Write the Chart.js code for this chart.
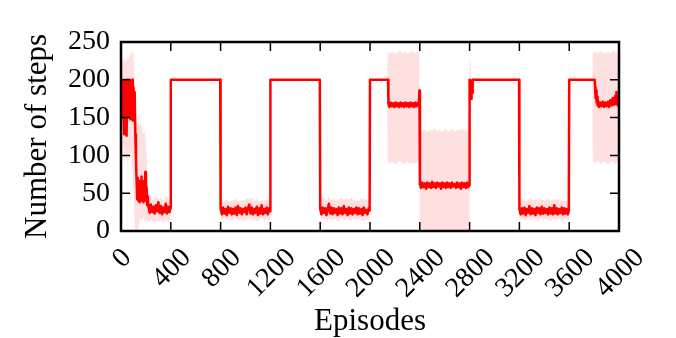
<!DOCTYPE html>
<html>
<head>
<meta charset="utf-8">
<script src="https://cdn.jsdelivr.net/npm/chart.js@4.4.1/dist/chart.umd.min.js"></script>
<style>
  html, body { margin: 0; padding: 0; background: #fff; }
  canvas { display: block; }
</style>
</head>
<body>
<canvas id="chart" width="676" height="338"></canvas>
<script>
// values
const xTicks = [0, 400, 800, 1200, 1600, 2000, 2400, 2800, 3200, 3600, 4000];
const yTicks = [0, 50, 100, 150, 200, 250];

const meanEpisodes = [
  0, 5, 10, 15, 20, 25, 30, 35, 40, 45, 50, 55, 60, 65, 70, 75, 80, 85, 90, 95, 100, 105, 110,
  115, 120, 125, 130, 135, 140, 145, 150, 155, 160, 165, 170, 175, 180, 185, 190, 195, 200, 205, 210, 215,
  220, 230, 240, 250, 260, 270, 280, 290, 300, 310, 320, 330, 340, 350, 360, 370, 380, 390, 396,
  400, 797,
  800, 810, 820, 830, 840, 850, 860, 870, 880, 890, 900, 910, 920, 930, 940, 950, 960, 970, 980, 990,
  1000, 1010, 1020, 1030, 1040, 1050, 1060, 1070, 1080, 1090, 1100, 1110, 1120, 1130, 1140, 1150, 1160, 1170, 1180, 1190, 1197,
  1200, 1597,
  1600, 1610, 1620, 1630, 1640, 1650, 1660, 1670, 1680, 1690, 1700, 1710, 1720, 1730, 1740, 1750, 1760, 1770, 1780, 1790,
  1800, 1810, 1820, 1830, 1840, 1850, 1860, 1870, 1880, 1890, 1900, 1910, 1920, 1930, 1940, 1950, 1960, 1970, 1980, 1990, 1997,
  2000, 2145,
  2148, 2155, 2165, 2175, 2185, 2195, 2205, 2215, 2225, 2235, 2245, 2255, 2265, 2275, 2285, 2295, 2305, 2315, 2325, 2335,
  2345, 2355, 2365, 2375, 2385, 2393, 2397,
  2401, 2410, 2420, 2430, 2440, 2450, 2460, 2470, 2480, 2490, 2500, 2510, 2520, 2530, 2540, 2550, 2560, 2570, 2580, 2590,
  2600, 2610, 2620, 2630, 2640, 2650, 2660, 2670, 2680, 2690, 2700, 2710, 2720, 2730, 2740, 2750, 2760, 2770, 2780, 2790, 2797,
  2800, 2804, 2808, 2812, 2816, 2820, 2825, 3197,
  3200, 3210, 3220, 3230, 3240, 3250, 3260, 3270, 3280, 3290, 3300, 3310, 3320, 3330, 3340, 3350, 3360, 3370, 3380, 3390,
  3400, 3410, 3420, 3430, 3440, 3450, 3460, 3470, 3480, 3490, 3500, 3510, 3520, 3530, 3540, 3550, 3560, 3570, 3580, 3590, 3597,
  3600, 3805,
  3808, 3812, 3816, 3820, 3824, 3828, 3832, 3840, 3850, 3860, 3870, 3880, 3890, 3900, 3910, 3920, 3930, 3940, 3950, 3960,
  3970, 3975, 3980, 3985, 3990, 4000
];
const meanSteps = [
  176, 200, 150, 198, 158, 128, 200, 154, 197, 126, 200, 150, 198, 160, 200, 148, 196, 162, 200, 146, 190, 152, 184,
  128, 96, 68, 42, 70, 40, 66, 38, 64, 42, 72, 40, 62, 38, 66, 44, 78, 40, 58, 34, 46,
  33, 24, 35, 25, 32, 23, 34, 26, 38, 24, 33, 22, 31, 25, 36, 23, 32, 25, 30,
  200, 200,
  30, 22, 31, 23, 29, 21, 32, 24, 30, 22, 29, 23, 31, 21, 33, 24, 30, 22, 29, 25,
  31, 22, 30, 35, 23, 31, 22, 29, 24, 32, 21, 30, 23, 34, 22, 29, 24, 31, 22, 30, 26,
  200, 200,
  29, 22, 31, 24, 30, 21, 29, 36, 23, 31, 22, 30, 24, 29, 21, 31, 23, 30, 22, 33,
  24, 29, 21, 31, 23, 30, 22, 29, 24, 31, 22, 30, 23, 29, 21, 31, 24, 28, 22, 30, 27,
  200, 200,
  168, 164, 170, 165, 169, 164, 170, 165, 169, 164, 170, 165, 169, 164, 170, 165, 169, 164, 170, 165,
  169, 164, 170, 165, 169, 171, 186,
  62, 57, 64, 58, 63, 56, 64, 58, 63, 57, 65, 58, 63, 57, 64, 59, 63, 56, 64, 58,
  63, 57, 64, 58, 63, 57, 64, 59, 62, 57, 64, 58, 63, 56, 64, 58, 63, 57, 64, 58, 61,
  200, 176, 197, 175, 199, 183, 200, 200,
  29, 22, 30, 23, 31, 21, 29, 24, 33, 22, 30, 23, 29, 21, 31, 24, 30, 22, 32, 23,
  30, 24, 29, 22, 31, 23, 30, 22, 34, 23, 30, 22, 29, 24, 31, 22, 30, 23, 29, 22, 27,
  200, 200,
  190, 176, 186, 170, 178, 166, 172, 164, 170, 165, 171, 164, 170, 165, 171, 164, 173, 166, 176, 167,
  179, 168, 184, 170, 166, 172
];

const bandEpisodes = [
  0, 10, 20, 30, 40, 50, 60, 70, 80, 90, 100, 108, 113, 120, 130, 140, 150, 160, 170, 180, 190, 200, 210,
  220, 240, 260, 280, 300, 320, 340, 360, 380, 396,
  400, 796, 800, 804,
  810, 830, 850, 870, 890, 910, 930, 950, 970, 990, 1010, 1030, 1050, 1070, 1090, 1110, 1130, 1150, 1170, 1190, 1197,
  1200, 1596, 1600, 1604,
  1610, 1630, 1650, 1670, 1690, 1710, 1730, 1750, 1770, 1790, 1810, 1830, 1850, 1870, 1890, 1910, 1930, 1950, 1970, 1990, 1997,
  2000, 2138, 2142,
  2160, 2180, 2200, 2220, 2240, 2260, 2280, 2300, 2320, 2340, 2360, 2380, 2396,
  2400, 2420, 2440, 2460, 2480, 2500, 2520, 2540, 2560, 2580, 2600, 2620, 2640, 2660, 2680, 2700, 2720, 2740, 2760, 2780, 2796,
  2800, 2806, 2812, 2818,
  3196, 3200, 3204,
  3210, 3230, 3250, 3270, 3290, 3310, 3330, 3350, 3370, 3390, 3410, 3430, 3450, 3470, 3490, 3510, 3530, 3550, 3570, 3590,
  3594, 3598, 3603,
  3786, 3790,
  3810, 3830, 3850, 3870, 3890, 3910, 3930, 3950, 3970, 3990, 4000
];
const bandLow = [
  104, 96, 112, 88, 102, 86, 108, 94, 106, 84, 55, 20, 0, 0, 0, 6, 14, 18, 13, 20, 16, 12, 15,
  12, 15, 11, 14, 12, 15, 11, 14, 12, 15,
  200, 200, 80, 8,
  15, 17, 14, 16, 13, 17, 15, 14, 16, 13, 15, 17, 14, 16, 13, 15, 17, 14, 16, 14, 15,
  200, 200, 60, 12,
  15, 16, 13, 17, 14, 16, 15, 13, 17, 14, 16, 15, 13, 17, 14, 16, 15, 13, 16, 14, 15,
  200, 200, 92,
  89, 92, 88, 91, 93, 89, 90, 92, 88, 91, 89, 92, 90,
  0, 0, 0, 0, 0, 0, 0, 0, 0, 0, 0, 0, 0, 0, 0, 0, 0, 0, 0, 0, 0,
  70, 172, 180, 200,
  200, 60, 12,
  15, 16, 13, 17, 14, 16, 15, 13, 17, 14, 16, 15, 13, 17, 14, 16, 15, 13, 16, 14,
  14, 80, 200,
  200, 92,
  90, 93, 89, 91, 92, 88, 91, 93, 89, 92, 91
];
const bandHigh = [
  226, 231, 224, 229, 222, 230, 227, 232, 236, 237, 235, 210, 172, 146, 141, 144, 137, 143, 135, 128, 133, 118, 85,
  56, 44, 41, 46, 42, 44, 40, 47, 42, 45,
  200, 200, 227, 70,
  42, 39, 42, 38, 41, 40, 43, 39, 41, 40, 44, 42, 45, 40, 43, 39, 41, 40, 42, 39, 41,
  200, 200, 212, 48,
  42, 44, 40, 45, 41, 43, 39, 42, 44, 40, 43, 41, 45, 40, 42, 39, 44, 41, 43, 40, 42,
  200, 200, 236,
  235, 237, 234, 236, 238, 235, 237, 234, 236, 238, 235, 237, 236,
  134, 132, 135, 131, 134, 133, 136, 132, 134, 131, 135, 133, 132, 135, 131, 134, 133, 136, 132, 134, 134,
  229, 226, 210, 200,
  200, 217, 50,
  41, 43, 39, 42, 44, 40, 42, 39, 43, 41, 40, 44, 39, 42, 41, 43, 40, 42, 39, 41,
  60, 230, 200,
  200, 236,
  237, 235, 238, 236, 234, 237, 235, 238, 236, 237, 237
];

const serif = '"Liberation Serif", "Times New Roman", serif';
Chart.defaults.font.family = serif;
Chart.defaults.color = '#000';

const pts = (xs, ys) => xs.map((x, i) => ({x: x, y: ys[i]}));

// frame, inward ticks on all sides, rotated x labels
const axesBox = {
  id: 'axesBox',
  afterDatasetsDraw(chart) {
    const {ctx, chartArea: a, scales: {x, y}} = chart;
    ctx.save();
    ctx.strokeStyle = '#000';
    ctx.lineWidth = 1.5;
    ctx.beginPath();
    xTicks.forEach(v => {
      const px = x.getPixelForValue(v);
      ctx.moveTo(px, a.bottom); ctx.lineTo(px, a.bottom - 9);
      ctx.moveTo(px, a.top); ctx.lineTo(px, a.top + 9);
    });
    yTicks.forEach(v => {
      const py = y.getPixelForValue(v);
      ctx.moveTo(a.left, py); ctx.lineTo(a.left + 9, py);
      ctx.moveTo(a.right, py); ctx.lineTo(a.right - 9, py);
    });
    ctx.stroke();
    ctx.lineWidth = 2.5;
    ctx.strokeRect(a.left, a.top, a.right - a.left, a.bottom - a.top);

    ctx.font = '28px ' + serif;
    ctx.fillStyle = '#000';
    ctx.textAlign = 'center';
    ctx.textBaseline = 'alphabetic';
    xTicks.forEach(v => {
      const s = String(v);
      const m = ctx.measureText(s);
      const th = m.actualBoundingBoxAscent + m.actualBoundingBoxDescent;
      const h = (m.width + th) * Math.SQRT1_2;
      const cx = x.getPixelForValue(v);
      const cy = a.bottom + 15 + h / 2;
      ctx.save();
      ctx.translate(cx, cy);
      ctx.rotate(-Math.PI / 4);
      ctx.fillText(s, 0, (m.actualBoundingBoxAscent - m.actualBoundingBoxDescent) / 2);
      ctx.restore();
    });
    ctx.restore();
  }
};

new Chart(document.getElementById('chart'), {
  type: 'line',
  data: {
    datasets: [
      {
        data: pts(bandEpisodes, bandHigh),
        borderWidth: 0,
        pointRadius: 0,
        fill: false,
        backgroundColor: 'rgba(255,0,0,0.12)'
      },
      {
        data: pts(bandEpisodes, bandLow),
        borderWidth: 0,
        pointRadius: 0,
        fill: '-1',
        backgroundColor: 'rgba(255,0,0,0.12)'
      },
      {
        data: pts(meanEpisodes, meanSteps),
        borderColor: '#ff0000',
        borderWidth: 2.5,
        borderJoinStyle: 'round',
        pointRadius: 0,
        fill: false,
        order: -1
      }
    ]
  },
  options: {
    responsive: false,
    animation: false,
    devicePixelRatio: 1,
    layout: { padding: { left: 0, right: 57, top: 42, bottom: 0 } },
    plugins: { legend: { display: false }, tooltip: { enabled: false } },
    scales: {
      x: {
        type: 'linear',
        min: 0,
        max: 4000,
        grid: { display: false, drawTicks: false },
        border: { display: false },
        ticks: { display: false },
        title: {
          display: true,
          text: 'Episodes',
          font: { size: 31, lineHeight: 1 },
          padding: { top: 0, bottom: 1 }
        },
        afterFit(s) { s.height = 107; }
      },
      y: {
        min: 0,
        max: 250,
        grid: { display: false, drawTicks: false },
        border: { display: false },
        ticks: { stepSize: 50, padding: 11, font: { size: 28 } },
        title: {
          display: true,
          text: 'Number of steps',
          font: { size: 31, lineHeight: 1 },
          padding: { top: 22, bottom: 0 }
        },
        afterFit(s) { s.width = 121; }
      }
    }
  },
  plugins: [axesBox]
});
</script>
</body>
</html>
